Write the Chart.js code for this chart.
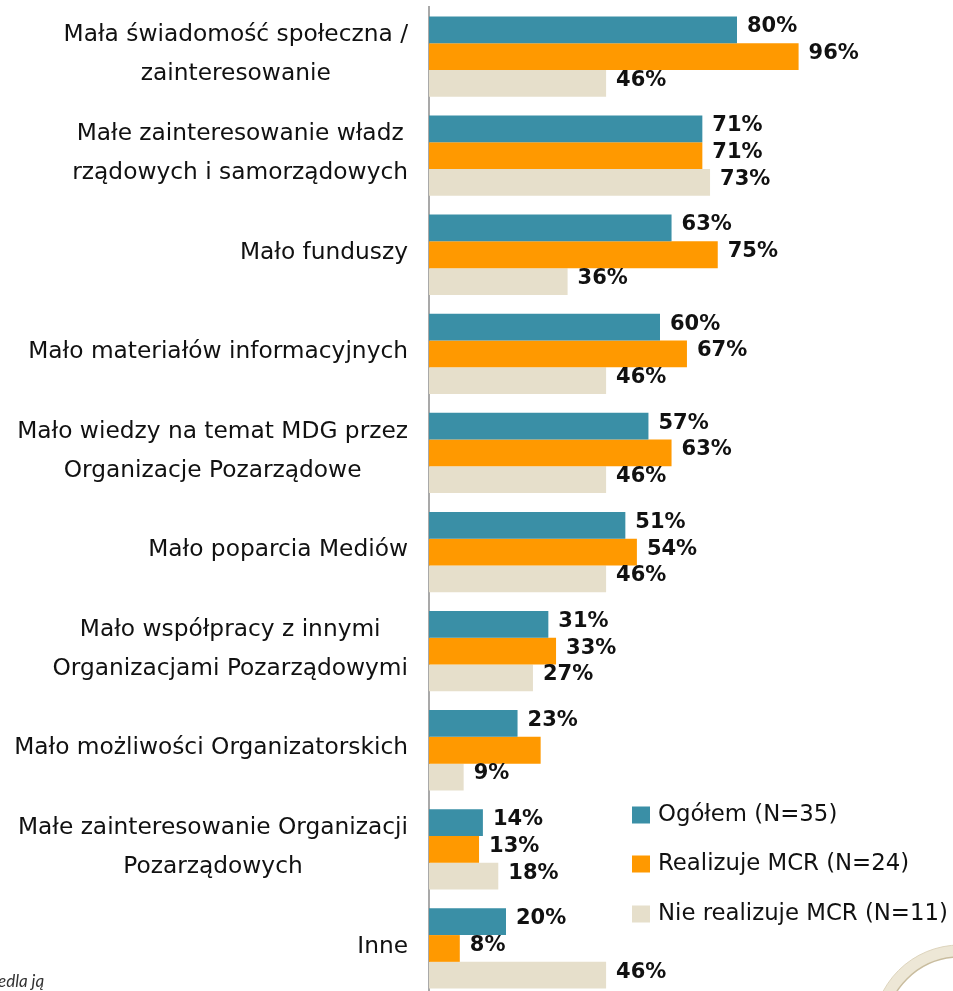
<!DOCTYPE html>
<html><head><meta charset="utf-8">
<script src="https://cdn.jsdelivr.net/npm/chart.js@4"></script>
<style>html,body{margin:0;padding:0;background:#fff;overflow:hidden}#wrap{position:relative;width:953px;height:998px}</style>
</head><body><div id="wrap"><canvas id="c" width="953" height="998"></canvas></div>
<script>
const categories = [
  ["Mała świadomość społeczna /", "zainteresowanie"],
  ["Małe zainteresowanie władz", "rządowych i samorządowych"],
  ["Mało funduszy"],
  ["Mało materiałów informacyjnych"],
  ["Mało wiedzy na temat MDG przez", "Organizacje Pozarządowe"],
  ["Mało poparcia Mediów"],
  ["Mało współpracy z innymi", "Organizacjami Pozarządowymi"],
  ["Mało możliwości Organizatorskich"],
  ["Małe zainteresowanie Organizacji", "Pozarządowych"],
  ["Inne"]
];
const seriesNames = ["Ogółem (N=35)", "Realizuje MCR (N=24)", "Nie realizuje MCR (N=11)"];
const ogolem       = [80, 71, 63, 60, 57, 51, 31, 23, 14, 20];
const realizuje    = [96, 71, 75, 67, 63, 54, 33, 29, 13, 8];
const nieRealizuje = [46, 73, 36, 46, 46, 46, 27, 9, 18, 46];
// indices (per series) whose value label is not printed in the original
const unlabeled = [[], [7], []];
const footnote = "edla ją";

const colors = ["#3a8fa6", "#ff9900", "#e6dfcb"];
const FONT = '"DejaVu Sans", Verdana, sans-serif';

const drawPlugin = {
  id: 'drawExtras',
  afterDatasetsDraw(chart) {
    const ctx = chart.ctx;
    const ys = chart.scales.y;
    ctx.save();
    // category labels
    ctx.font = '23.3px ' + FONT;
    ctx.fillStyle = '#111';
    ctx.textBaseline = 'middle';
    ctx.textAlign = 'center';
    categories.forEach((lines, i) => {
      const cy = ys.getPixelForValue(i);
      const w = Math.max(...lines.map(l => ctx.measureText(l).width));
      const cx = 408 - w / 2;
      const lh = 39;
      lines.forEach((l, k) => {
        ctx.fillText(l, cx, cy + (k - (lines.length - 1) / 2) * lh - 2);
      });
    });
    // value labels
    ctx.font = 'bold 21px ' + FONT;
    ctx.textAlign = 'left';
    ctx.fillStyle = '#111';
    chart.data.datasets.forEach((ds, di) => {
      const meta = chart.getDatasetMeta(di);
      meta.data.forEach((bar, i) => {
        if (unlabeled[di].includes(i)) return;
        ctx.fillText(ds.data[i] + '%', bar.x + 10, bar.y - 3);
      });
    });
    // legend
    ctx.font = '22.8px ' + FONT;
    const rows = [815, 864, 914];
    chart.data.datasets.forEach((ds, di) => {
      ctx.fillStyle = ds.backgroundColor;
      ctx.fillRect(632, rows[di] - 8.5, 18, 17);
      ctx.fillStyle = '#111';
      ctx.fillText(ds.label, 658, rows[di]);
    });
    // footnote fragment
    ctx.font = 'italic 17px Lato, "Open Sans", sans-serif';
    ctx.fillStyle = '#333';
    ctx.textBaseline = 'alphabetic';
    ctx.fillText(footnote, -2, 987);
    // decorative ring (logo fragment)
    ctx.beginPath();
    ctx.arc(960, 1032, 81, 0, Math.PI * 2);
    ctx.lineWidth = 12;
    ctx.strokeStyle = '#ede7d6';
    ctx.stroke();
    ctx.beginPath();
    ctx.arc(960, 1032, 75, 0, Math.PI * 2);
    ctx.lineWidth = 1.5;
    ctx.strokeStyle = '#c9bd9f';
    ctx.stroke();
    ctx.beginPath();
    ctx.arc(960, 1032, 87, 0, Math.PI * 2);
    ctx.lineWidth = 1;
    ctx.strokeStyle = '#ddd4bd';
    ctx.stroke();
    ctx.restore();
  }
};

new Chart(document.getElementById('c'), {
  type: 'bar',
  data: {
    labels: categories,
    datasets: [
      { label: seriesNames[0], data: ogolem, backgroundColor: colors[0] },
      { label: seriesNames[1], data: realizuje, backgroundColor: colors[1] },
      { label: seriesNames[2], data: nieRealizuje, backgroundColor: colors[2] }
    ]
  },
  options: {
    indexAxis: 'y',
    responsive: false,
    animation: false,
    devicePixelRatio: 1,
    layout: { padding: { top: 7, right: 139, bottom: 0, left: 0 } },
    datasets: { bar: { barPercentage: 1, categoryPercentage: 0.81 } },
    plugins: { legend: { display: false }, tooltip: { enabled: false } },
    scales: {
      x: { display: false, min: 0, max: 100 },
      y: {
        grid: { display: false },
        border: { display: true, color: '#a9a9a9', width: 2 },
        ticks: { display: false },
        afterFit(s) { s.width = 429; }
      }
    }
  },
  plugins: [drawPlugin]
});
</script>
</body></html>
